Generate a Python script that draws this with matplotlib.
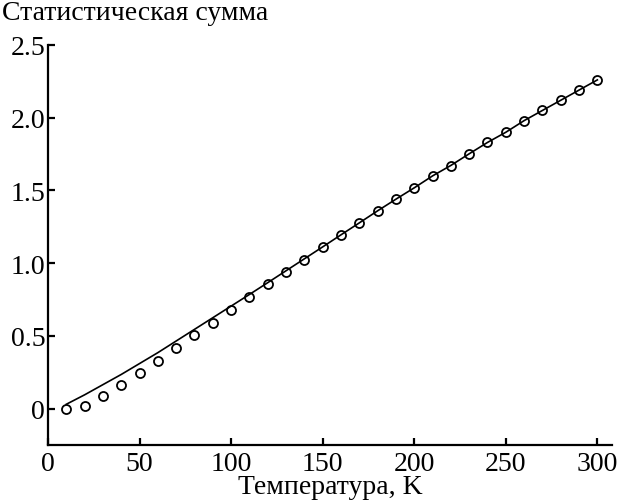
import matplotlib
matplotlib.use("Agg")
import matplotlib.pyplot as plt

T_points = [10, 20, 30, 40, 50, 60, 70, 80, 90, 100, 110, 120, 130, 140, 150,
            160, 170, 180, 190, 200, 210, 220, 230, 240, 250, 260, 270, 280, 290, 300]
Z_points = [0.0, 0.016, 0.085, 0.163, 0.248, 0.33, 0.418, 0.507, 0.592, 0.68,
            0.767, 0.854, 0.939, 1.025, 1.108, 1.193, 1.275, 1.358, 1.438, 1.516,
            1.60, 1.67, 1.75, 1.83, 1.90, 1.98, 2.05, 2.12, 2.19, 2.26]

T_line = [10, 20, 30, 40, 50, 60, 70, 80, 90, 100, 110, 120, 130, 140, 150,
          160, 170, 180, 190, 200, 210, 220, 230, 240, 250, 260, 270, 280, 290, 300]
Z_line = [0.03, 0.095, 0.165, 0.235, 0.31, 0.385, 0.465, 0.545, 0.625, 0.705,
          0.785, 0.866, 0.948, 1.03, 1.112, 1.195, 1.277, 1.36, 1.44, 1.518,
          1.60, 1.672, 1.752, 1.83, 1.90, 1.98, 2.05, 2.12, 2.19, 2.26]

x_ticks = [0, 50, 100, 150, 200, 250, 300]
x_labels = ['0', '50', '100', '150', '200', '250', '300']
y_ticks = [0, 0.5, 1.0, 1.5, 2.0, 2.5]
y_labels = ['0', '0.5', '1.0', '1.5', '2.0', '2.5']

plt.rcParams['font.family'] = ['Liberation Serif', 'DejaVu Serif']

fig = plt.figure(figsize=(6.18, 5.02), dpi=100)
ax = fig.add_axes([48/618, 56/502, 564/618, 400/502])

ax.plot(T_line, Z_line, color='black', lw=1.2)
ax.plot(T_points, Z_points, linestyle='none', marker='o', markersize=6.5,
        markerfacecolor='none', markeredgecolor='black', markeredgewidth=1.3)

ax.set_xlim(0, 308)
ax.set_ylim(-0.25, 2.5)
ax.set_xticks(x_ticks)
ax.set_xticklabels(x_labels)
ax.set_yticks(y_ticks)
ax.set_yticklabels(y_labels)

for s in ['top', 'right']:
    ax.spines[s].set_visible(False)
for s in ['left', 'bottom']:
    ax.spines[s].set_linewidth(1.6)

ax.tick_params(direction='in', length=5, width=1.6, labelsize=20)
ax.tick_params(axis='y', pad=2)
ax.tick_params(axis='x', pad=4)

fig.text(2/618, 1 - 20/502, 'Статистическая сумма', fontsize=20, ha='left', va='baseline')
fig.text(330/618, 1 - 494/502, 'Температура, K', fontsize=20, ha='center', va='baseline')

fig.savefig('out.png', dpi=100)
